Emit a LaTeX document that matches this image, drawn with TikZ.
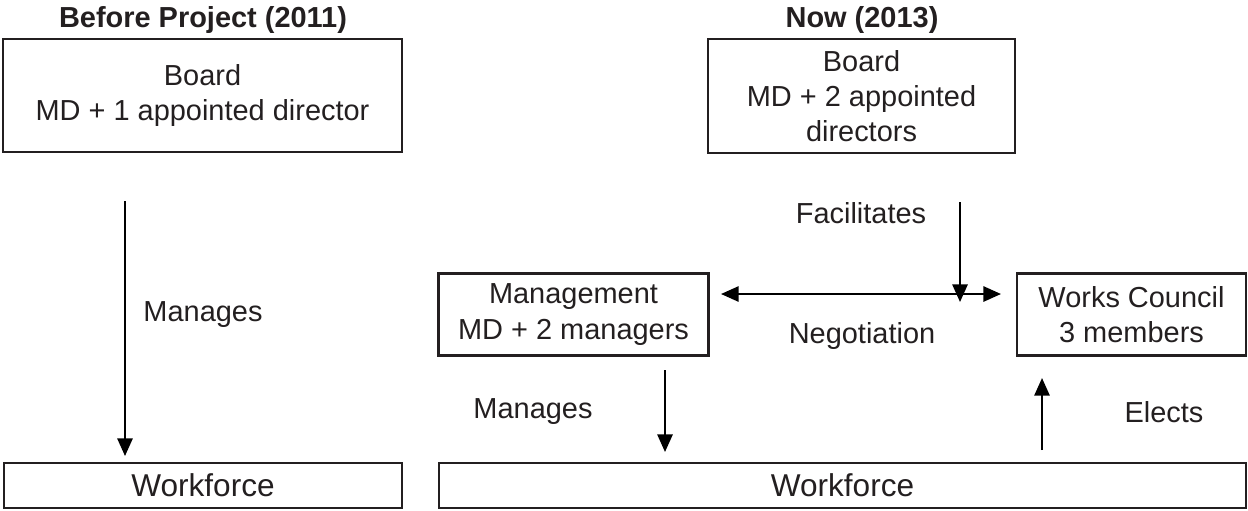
\documentclass[tikz,border=0pt]{standalone}
\usepackage{fontspec}
\setmainfont{Liberation Sans}
\usetikzlibrary{arrows.meta}
\definecolor{ink}{RGB}{35,31,32}
\begin{document}
\begin{tikzpicture}[x=0.38pt,y=-0.38pt,
  txt/.style={font=\fontsize{11}{13.4}\selectfont, text=ink},
  box/.style={draw=ink, line width=1pt, inner sep=0pt, align=center, txt},
  wbox/.style={draw=ink, line width=1pt, inner sep=0pt, align=center, text=ink, font=\fontsize{12}{14}\selectfont},
  lbl/.style={inner sep=0pt, txt},
  ttl/.style={inner sep=0pt, text=ink, font=\fontsize{11}{13.4}\selectfont\bfseries},
  tip/.tip={Triangle[length=6.7pt,width=5.8pt]},
  arr/.style={line width=0.75pt, -tip},
  darr/.style={line width=0.75pt, tip-tip}]
\useasboundingbox (0,0) rectangle (1248,510);

% titles
\node[ttl] (t1) at (203,20) {Before Project (2011)};
\node[ttl] (t2) at (862,20) {Now (2013)};

% boxes
\node[box, minimum width=151.6pt, minimum height=42.9pt] (lb) at (202.5,95.5) {Board\\MD + 1 appointed director};
\node[wbox, minimum width=151.2pt, minimum height=17.1pt] (lw) at (203,485.5) {Workforce};
\node[box, minimum width=116.7pt, minimum height=43.3pt] (rb) at (861.5,96) {Board\\MD + 2 appointed\\directors};
\node[box, minimum width=102.6pt, minimum height=31.2pt] (mg) at (573.5,314.5) {Management\\MD + 2 managers};
\node[box, minimum width=87pt, minimum height=31.2pt] (wc) at (1131.5,314.5) {Works Council\\3 members};
\node[wbox, minimum width=306.7pt, minimum height=17.1pt] (rw) at (842.5,485.5) {Workforce};

% labels
\node[lbl] (lman) at (203,315) {Manages};
\node[lbl] (fac) at (861,213) {Facilitates};
\node[lbl] (neg) at (862,336) {Negotiation};
\node[lbl] (rman) at (533,412) {Manages};
\node[lbl] (ele) at (1164,412) {Elects};

% arrow end points
\coordinate (ma1) at (125,201);
\coordinate (ma2) at (125,456);
\coordinate (fa1) at (960,202);
\coordinate (fa2) at (960,302);
\coordinate (na1) at (721,294);
\coordinate (na2) at (1001,294);
\coordinate (mb1) at (665,370);
\coordinate (mb2) at (665,452);
\coordinate (el1) at (1042,450);
\coordinate (el2) at (1042,378);

% arrows
\draw[arr] (ma1) -- (ma2);
\draw[darr] (na1) -- (na2);
\draw[arr] (fa1) -- (fa2);
\draw[arr] (mb1) -- (mb2);
\draw[arr] (el1) -- (el2);
\end{tikzpicture}
\end{document}
